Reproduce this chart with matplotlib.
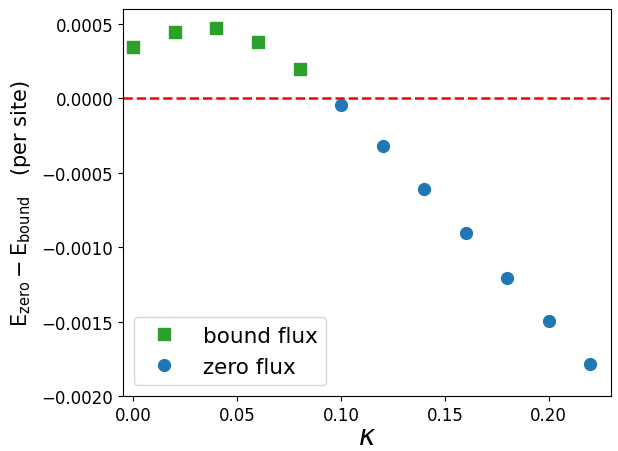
import matplotlib
matplotlib.use("Agg")
import matplotlib.pyplot as plt

kappa_bound = [0.00, 0.02, 0.04, 0.06, 0.08]
diff_bound = [0.000344, 0.000445, 0.000470, 0.000380, 0.000197]

kappa_zero = [0.10, 0.12, 0.14, 0.16, 0.18, 0.20, 0.22]
diff_zero = [-0.000047, -0.000320, -0.000609, -0.000908, -0.001206, -0.001499, -0.001783]

fig = plt.figure(figsize=(6.18, 4.52), dpi=100)
ax = fig.add_axes([123 / 618, 55 / 452, 488 / 618, 387 / 452])

ax.plot(kappa_bound, diff_bound, "s", color="#2ca02c", ms=8.5, label="bound flux")
ax.plot(kappa_zero, diff_zero, "o", color="#1f77b4", ms=8.5, label="zero flux")
ax.axhline(0, color="red", ls="--", lw=1.8)

ax.set_xlim(-0.005, 0.23)
ax.set_ylim(-0.002, 0.0006)
ax.set_yticks([-0.002, -0.0015, -0.001, -0.0005, 0.0, 0.0005])
ax.set_yticklabels(["\u22120.0020", "\u22120.0015", "\u22120.0010", "\u22120.0005", "0.0000", "0.0005"])
ax.set_xticks([0.0, 0.05, 0.10, 0.15, 0.20])
ax.set_xticklabels(["0.00", "0.05", "0.10", "0.15", "0.20"])
ax.tick_params(labelsize=12)

ax.set_xlabel(r"$\kappa$", fontsize=20, labelpad=-1)
ax.set_ylabel(r"$\mathrm{E_{zero} - E_{bound}}$   (per site)", fontsize=15, labelpad=6)
ax.legend(loc="lower left", fontsize=15.5)

fig.savefig("out.png", dpi=100)
